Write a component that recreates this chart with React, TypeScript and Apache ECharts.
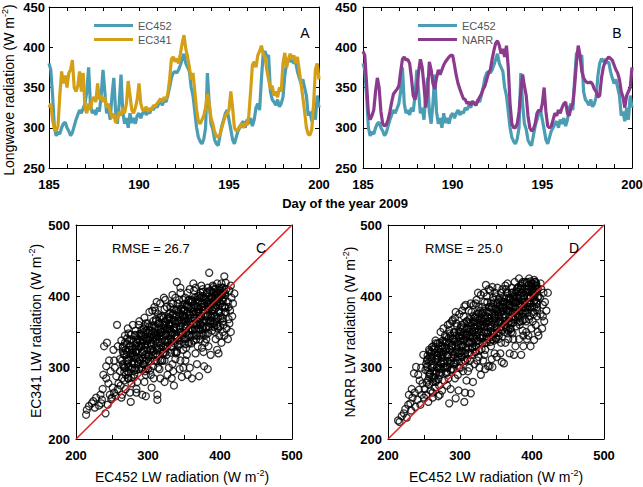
import React, { useEffect, useRef } from "react";
import * as echarts from "echarts";

// Radiation records sampled every 0.1 day, one row per day
const dayStart = 185;
const dayStep = 0.1;

const ec452 = [
  380, 372, 340, 300, 290, 295, 292, 300, 305, 307,
  300, 296, 290, 294, 302, 310, 316, 322, 318, 324,
  330, 345, 375, 330, 318, 322, 316, 325, 320, 340,
  372, 345, 318, 325, 310, 340, 362, 320, 305, 330,
  366, 320, 305, 312, 300, 318, 306, 312, 305, 315,
  318, 312, 318, 322, 316, 320, 318, 325, 322, 328,
  325, 330, 332, 328, 335, 332, 340, 350, 362, 368,
  370, 368, 372, 378, 385, 392, 380, 375, 370, 350,
  340, 320, 300, 288, 283, 280, 286, 300, 368, 330,
  305, 298, 285, 280, 278, 290, 302, 310, 318, 322,
  310, 298, 285, 280, 288, 296, 300, 305, 308, 300,
  310, 305, 312, 302, 310, 325, 330, 322, 360, 392,
  395, 388, 390, 345, 335, 332, 328, 335, 326, 330,
  338, 365, 380, 386, 382, 385, 380, 382, 370, 362,
  355, 360, 350, 340, 315, 320, 308, 325, 310, 340,
  325,
];

const ec341 = [
  325, 330, 310, 298, 296, 302, 340, 370, 355, 365,
  350, 368, 372, 384, 350, 345, 352, 370, 345, 368,
  325, 318, 330, 322, 335, 338, 332, 355, 335, 340,
  332, 338, 325, 330, 320, 312, 318, 306, 312, 320,
  315, 325, 318, 330, 358, 340, 322, 318, 325, 335,
  355, 330, 322, 322, 326, 320, 324, 322, 328, 326,
  330, 333, 336, 332, 338, 335, 342, 360, 385, 388,
  382, 386, 380, 392, 405, 415, 398, 388, 375, 360,
  368, 345, 322, 308, 305, 310, 315, 325, 342, 330,
  312, 305, 295, 290, 288, 292, 300, 308, 315, 318,
  322, 345, 325, 300, 296, 298, 302, 305, 300, 306,
  303, 315, 345, 378, 382, 375, 390, 395, 402, 392,
  388, 372, 360, 348, 352, 340, 345, 338, 350, 345,
  380, 393, 375, 385, 392, 385, 390, 380, 388, 372,
  355, 338, 320, 300, 292, 291, 298, 330, 372, 380,
  360,
];

const narr = [
  395, 390, 355, 318, 310, 315, 322, 345, 362, 350,
  320, 305, 302, 304, 310, 320, 332, 342, 345, 348,
  352, 370, 385, 388, 384, 385, 380, 362, 340, 335,
  345, 370, 385, 375, 352, 325, 345, 382, 372, 355,
  348, 362, 372, 366, 372, 378, 382, 385, 388, 390,
  390, 378, 365, 355, 348, 342, 336, 335, 330, 332,
  328, 333, 330, 328, 333, 338, 342, 348, 352, 360,
  368, 372, 385, 396, 405, 408, 402, 392, 398, 388,
  402, 375, 330, 305, 300, 300, 305, 320, 345, 366,
  352, 340, 315, 300, 296, 298, 305, 318, 322, 320,
  330, 350, 320, 302, 300, 302, 310, 318, 315, 322,
  318, 325, 330, 332, 318, 315, 325, 330, 352, 380,
  402, 390, 370, 362, 358, 356, 356, 357, 354, 348,
  345, 338, 340, 362, 375, 382, 385, 388, 386, 384,
  378, 372, 368, 360, 345, 338, 325, 340, 345, 350,
  375,
];

// EC452 (x) against EC341 (y), W m-2: outer cloud
const ec452VsEc341: [number, number][] = [
  [214, 234], [215, 241], [218, 246],
  [222, 250], [226, 244], [228, 258], [224, 253],
  [232, 247], [234, 262], [236, 255], [238, 290], [239, 330], [235, 250], [237, 270],
  [241, 236], [242, 302], [243, 335], [244, 248], [245, 278], [246, 310], [247, 262], [248, 295], [249, 256], [242, 285],
  [251, 272], [252, 325], [253, 265], [254, 300], [255, 260], [256, 288], [257, 360], [258, 330], [259, 278], [253, 310], [250, 258], [258, 270],
  [261, 295], [262, 275], [263, 338], [264, 262], [265, 305], [266, 320], [267, 282], [268, 345], [269, 290], [261, 312], [263, 258], [265, 330], [267, 300], [269, 270],
  [271, 310], [272, 355], [273, 285], [274, 325], [275, 265], [276, 252], [277, 340], [278, 300], [279, 318], [271, 295], [273, 348], [275, 330], [277, 278], [279, 360], [272, 305], [276, 315],
  [281, 290], [282, 345], [283, 322], [284, 265], [285, 335], [286, 308], [287, 360], [288, 298], [289, 328], [281, 315], [283, 352], [285, 280], [287, 340], [289, 310], [282, 300], [286, 325], [288, 365], [284, 270],
  [291, 330], [292, 262], [293, 345], [294, 305], [295, 370], [296, 318], [297, 290], [298, 352], [299, 325], [291, 300], [293, 338], [295, 280], [297, 362], [299, 312], [292, 322], [294, 355], [296, 295], [298, 340], [290, 348], [297, 260],
  [301, 315], [302, 378], [303, 335], [304, 290], [305, 358], [306, 322], [307, 302], [308, 345], [309, 385], [301, 340], [303, 296], [305, 330], [307, 365], [309, 310], [302, 352], [304, 325], [306, 380], [308, 285], [300, 362], [310, 338], [305, 272],
  [311, 320], [312, 392], [313, 345], [314, 300], [315, 362], [316, 335], [317, 285], [318, 372], [319, 350], [311, 368], [313, 255], [315, 328], [317, 390], [319, 310], [312, 340], [314, 375], [316, 298], [318, 355], [310, 380], [320, 325], [313, 262], [316, 348],
  [321, 345], [322, 398], [323, 310], [324, 365], [325, 330], [326, 385], [327, 290], [328, 355], [329, 375], [321, 320], [323, 382], [325, 348], [327, 335], [329, 300], [322, 360], [324, 395], [326, 318], [328, 340], [320, 372], [330, 352], [323, 280], [327, 368],
  [331, 360], [332, 330], [333, 390], [334, 305], [335, 375], [336, 275], [337, 345], [338, 398], [339, 320], [331, 385], [333, 350], [335, 295], [337, 365], [339, 380], [332, 340], [334, 402], [336, 355], [338, 312], [330, 370], [340, 345], [335, 390], [340, 420], [333, 285],
  [341, 365], [342, 330], [343, 395], [344, 355], [345, 310], [346, 382], [347, 345], [348, 372], [349, 300], [341, 390], [343, 338], [345, 405], [347, 362], [349, 325], [342, 378], [344, 298], [346, 350], [348, 388], [340, 322], [350, 368], [345, 412], [347, 287], [349, 395],
  [351, 340], [352, 398], [353, 365], [354, 318], [355, 385], [356, 352], [357, 375], [358, 300], [359, 392], [351, 372], [353, 328], [355, 405], [357, 345], [359, 362], [352, 310], [354, 388], [356, 335], [358, 410], [350, 380], [360, 355], [355, 290], [357, 395], [353, 355],
  [361, 370], [362, 392], [363, 338], [364, 408], [365, 355], [366, 320], [367, 385], [368, 345], [369, 400], [361, 285], [363, 378], [365, 398], [367, 362], [369, 330], [362, 352], [364, 375], [366, 412], [368, 305], [360, 395], [370, 365], [363, 418], [367, 340], [369, 382],
  [371, 355], [372, 398], [373, 340], [374, 385], [375, 365], [376, 410], [377, 322], [378, 390], [379, 372], [371, 288], [373, 405], [375, 348], [377, 380], [379, 335], [372, 368], [374, 415], [376, 355], [378, 302], [370, 378], [380, 395], [375, 328], [377, 400], [373, 360],
  [381, 372], [382, 405], [383, 348], [384, 390], [385, 433], [386, 365], [387, 318], [388, 398], [389, 380], [381, 340], [383, 412], [385, 358], [387, 385], [389, 352], [382, 392], [384, 330], [386, 408], [388, 370], [380, 355], [390, 415], [383, 298], [387, 362], [389, 400],
  [391, 385], [392, 410], [393, 350], [394, 398], [395, 368], [396, 325], [397, 405], [398, 378], [399, 345], [391, 362], [393, 402], [395, 388], [397, 355], [399, 412], [392, 372], [394, 340], [396, 395], [398, 320], [390, 380], [400, 405], [395, 360],
  [401, 390], [402, 335], [403, 412], [404, 365], [405, 398], [406, 345], [407, 405], [408, 378], [409, 355], [401, 372], [403, 395], [405, 360], [407, 385], [409, 410], [402, 402], [406, 428], [404, 350],
  [411, 392], [412, 368], [413, 408], [414, 380], [415, 350], [416, 398], [417, 372], [418, 390], [420, 404], [412, 385], [415, 415], [413, 362], [411, 340],
];

// EC452 (x) against EC341 (y): dense core
const ec452VsEc341Core: [number, number][] = [
  [264, 310], [267, 294], [265, 323], [268, 335], [266, 302], [264, 285], [267, 318], [268, 300], [265, 328],
  [272, 310], [269, 325], [273, 293], [271, 341], [270, 318], [273, 301], [270, 333], [272, 285], [271, 322],
  [276, 320], [278, 307], [274, 338], [277, 298], [275, 331], [277, 286], [276, 346], [274, 312], [278, 326],
  [283, 313], [280, 336], [281, 305], [279, 325], [282, 346], [281, 297], [283, 330], [280, 286], [279, 321],
  [284, 322], [287, 306], [285, 335], [288, 347], [286, 314], [284, 297], [287, 330], [288, 312], [285, 340],
  [292, 322], [289, 337], [293, 305], [291, 353], [290, 330], [293, 313], [290, 345], [292, 297], [291, 334],
  [296, 332], [298, 319], [294, 350], [297, 310], [295, 343], [297, 298], [296, 358], [294, 324], [298, 338],
  [303, 325], [300, 348], [301, 317], [299, 337], [302, 358], [301, 309], [303, 342], [300, 298], [299, 333],
  [304, 334], [307, 318], [305, 347], [308, 359], [306, 326], [304, 309], [307, 342], [308, 324], [305, 352],
  [312, 334], [309, 349], [313, 317], [311, 365], [310, 342], [313, 325], [310, 357], [312, 309], [311, 346],
  [316, 344], [318, 331], [314, 362], [317, 322], [315, 355], [317, 310], [316, 370], [314, 336], [318, 350],
  [323, 337], [320, 360], [321, 329], [319, 349], [322, 370], [321, 321], [323, 354], [320, 310], [319, 345],
  [324, 346], [327, 330], [325, 359], [328, 371], [326, 338], [324, 321], [327, 354], [328, 336], [325, 364],
  [332, 346], [329, 361], [333, 329], [331, 377], [330, 354], [333, 337], [330, 369], [332, 321], [331, 358],
  [336, 356], [338, 343], [334, 374], [337, 334], [335, 367], [337, 322], [336, 382], [334, 348], [338, 362],
  [343, 349], [340, 372], [341, 341], [339, 361], [342, 382], [341, 333], [343, 366], [340, 322], [339, 357],
  [344, 358], [347, 342], [345, 371], [348, 383], [346, 350], [344, 333], [347, 366], [348, 348], [345, 376],
  [352, 358], [349, 373], [353, 341], [351, 389], [350, 366], [353, 349], [350, 381], [352, 333], [351, 370],
  [356, 368], [358, 355], [354, 386], [357, 346], [355, 379], [357, 334], [356, 394], [354, 360], [358, 374],
  [363, 361], [360, 384], [361, 353], [359, 373], [362, 394], [361, 345], [363, 378], [360, 334], [359, 369],
  [364, 370], [367, 354], [365, 383], [368, 395], [366, 362], [364, 345], [367, 378], [368, 360], [365, 388],
  [372, 370], [369, 385], [373, 353], [371, 401], [370, 378], [373, 361], [370, 393], [372, 345], [371, 382],
  [376, 380], [378, 367], [374, 398], [377, 358], [375, 391], [377, 346], [376, 406], [374, 372], [378, 386],
  [383, 373], [380, 396], [381, 365], [379, 385], [382, 406], [381, 357], [383, 390], [380, 346], [379, 381],
  [384, 382], [387, 366], [385, 395], [388, 407], [386, 374], [384, 357], [387, 390], [388, 372], [385, 400],
  [392, 382], [389, 397], [393, 365], [391, 413], [390, 390], [393, 373], [390, 405], [392, 357], [391, 394],
  [396, 392], [398, 379], [394, 410], [397, 370], [395, 403], [397, 358], [396, 418], [394, 384], [398, 398],
  [403, 385], [400, 408], [401, 377], [399, 397], [402, 418], [401, 369], [403, 402], [400, 358], [399, 393],
  [404, 394], [407, 378], [405, 407], [408, 419], [406, 386], [404, 369], [407, 402], [408, 384], [405, 412],
];

// EC452 (x) against NARR (y), W m-2: outer cloud
const ec452VsNarr: [number, number][] = [
  [214, 226], [216, 224], [219, 232],
  [222, 236], [224, 242], [226, 230], [228, 248], [229, 262],
  [231, 250], [232, 240], [234, 258], [236, 292], [237, 265], [239, 301], [238, 245], [233, 270],
  [241, 255], [243, 269], [244, 282], [245, 248], [246, 300], [248, 278], [249, 318], [247, 262], [242, 290], [250, 258],
  [251, 270], [252, 297], [253, 262], [254, 310], [255, 282], [256, 252], [257, 325], [258, 290], [259, 268], [260, 320], [253, 305], [257, 276],
  [261, 300], [262, 258], [263, 330], [264, 285], [265, 272], [266, 338], [267, 295], [268, 312], [269, 334], [262, 265], [264, 325], [266, 280], [268, 300], [270, 260],
  [271, 320], [272, 290], [273, 350], [274, 305], [275, 268], [276, 338], [277, 310], [278, 282], [279, 345], [271, 275], [273, 298], [275, 330], [277, 355], [279, 300], [272, 262], [276, 318],
  [281, 335], [282, 300], [283, 360], [284, 285], [285, 250], [286, 325], [287, 345], [288, 310], [289, 365], [281, 292], [283, 318], [285, 352], [287, 270], [289, 330], [282, 275], [286, 362], [288, 298],
  [291, 340], [292, 305], [293, 370], [294, 257], [295, 325], [296, 358], [297, 290], [298, 345], [299, 375], [291, 318], [293, 285], [295, 362], [297, 332], [299, 300], [292, 350], [294, 378], [296, 310], [298, 268], [290, 367],
  [301, 350], [302, 315], [303, 380], [304, 295], [305, 338], [306, 386], [307, 265], [308, 325], [309, 365], [301, 300], [303, 345], [305, 372], [307, 310], [309, 282], [302, 360], [304, 330], [306, 252], [308, 388], [300, 320], [310, 348],
  [311, 335], [312, 380], [313, 300], [314, 362], [315, 390], [316, 318], [317, 350], [318, 280], [319, 372], [311, 295], [313, 368], [315, 264], [317, 328], [319, 388], [312, 355], [314, 310], [316, 378], [318, 342], [310, 365], [320, 305], [315, 345],
  [321, 370], [322, 330], [323, 395], [324, 310], [325, 358], [326, 385], [327, 300], [328, 345], [329, 402], [321, 322], [323, 375], [325, 338], [327, 362], [329, 290], [322, 390], [324, 350], [326, 315], [328, 380], [320, 340], [330, 365], [325, 405],
  [331, 385], [332, 345], [333, 405], [334, 318], [335, 370], [336, 416], [337, 335], [338, 392], [339, 302], [331, 360], [333, 380], [335, 325], [337, 400], [339, 350], [332, 310], [334, 392], [336, 362], [338, 340], [330, 375], [340, 410], [335, 298],
  [341, 365], [342, 408], [343, 330], [344, 385], [345, 413], [346, 350], [347, 395], [348, 320], [349, 375], [341, 302], [343, 390], [345, 340], [347, 370], [349, 405], [342, 355], [344, 312], [346, 398], [348, 362], [340, 385], [350, 342], [345, 301],
  [351, 380], [352, 412], [353, 340], [354, 395], [355, 365], [356, 320], [357, 405], [358, 352], [359, 388], [351, 315], [353, 375], [355, 398], [357, 335], [359, 410], [352, 360], [354, 345], [356, 385], [358, 308], [350, 400], [360, 370],
  [361, 306], [362, 392], [363, 415], [364, 355], [365, 380], [366, 418], [367, 340], [368, 398], [369, 365], [361, 375], [363, 335], [365, 405], [367, 388], [369, 320], [362, 360], [364, 410], [366, 348], [368, 380], [360, 392], [370, 355],
  [371, 385], [372, 412], [373, 348], [374, 398], [375, 368], [376, 420], [377, 330], [378, 392], [379, 375], [371, 350], [373, 405], [375, 318], [377, 382], [379, 410], [372, 362], [374, 340], [376, 400], [378, 358], [370, 395], [380, 372],
  [381, 398], [382, 425], [383, 360], [384, 410], [385, 318], [386, 385], [387, 420], [388, 345], [389, 400], [381, 372], [383, 390], [385, 415], [387, 352], [389, 380], [382, 340], [384, 365], [386, 405], [388, 330], [380, 412], [390, 392],
  [391, 405], [392, 365], [393, 420], [394, 385], [395, 345], [396, 425], [397, 372], [398, 398], [399, 355], [391, 380], [393, 340], [395, 410], [397, 390], [399, 418], [392, 350], [394, 400], [396, 368], [398, 330], [390, 420], [400, 385],
  [401, 410], [402, 375], [403, 423], [403, 339], [404, 395], [405, 360], [406, 415], [407, 385], [408, 350], [409, 400], [401, 365], [405, 420], [407, 372], [409, 345], [402, 405], [406, 392],
  [411, 398], [412, 375], [413, 410], [414, 355], [415, 388], [416, 405], [417, 365], [418, 392], [420, 380], [422, 405], [412, 418], [415, 372],
];

// EC452 (x) against NARR (y): dense core
const ec452VsNarrCore: [number, number][] = [
  [254, 301], [257, 287], [255, 312], [258, 323], [256, 294], [254, 279], [257, 308], [258, 292], [255, 317],
  [262, 302], [259, 315], [263, 287], [261, 329], [260, 309], [263, 295], [260, 322], [262, 280], [261, 313],
  [266, 311], [268, 300], [264, 327], [267, 292], [265, 321], [267, 282], [266, 334], [264, 304], [268, 317],
  [273, 307], [270, 327], [271, 300], [269, 317], [272, 335], [271, 293], [273, 322], [270, 284], [269, 314],
  [274, 315], [277, 301], [275, 326], [278, 337], [276, 308], [274, 293], [277, 322], [278, 306], [275, 331],
  [282, 316], [279, 329], [283, 301], [281, 343], [280, 323], [283, 309], [280, 336], [282, 294], [281, 327],
  [286, 325], [288, 314], [284, 341], [287, 306], [285, 335], [287, 296], [286, 348], [284, 318], [288, 331],
  [293, 321], [290, 341], [291, 314], [289, 331], [292, 349], [291, 307], [293, 336], [290, 298], [289, 328],
  [294, 329], [297, 315], [295, 340], [298, 351], [296, 322], [294, 307], [297, 336], [298, 320], [295, 345],
  [302, 330], [299, 343], [303, 315], [301, 357], [300, 337], [303, 323], [300, 350], [302, 308], [301, 341],
  [306, 339], [308, 328], [304, 355], [307, 320], [305, 349], [307, 310], [306, 362], [304, 332], [308, 345],
  [313, 335], [310, 355], [311, 328], [309, 345], [312, 363], [311, 321], [313, 350], [310, 312], [309, 342],
  [314, 343], [317, 329], [315, 354], [318, 365], [316, 336], [314, 321], [317, 350], [318, 334], [315, 359],
  [322, 344], [319, 357], [323, 329], [321, 371], [320, 351], [323, 337], [320, 364], [322, 322], [321, 355],
  [326, 353], [328, 342], [324, 369], [327, 334], [325, 363], [327, 324], [326, 376], [324, 346], [328, 359],
  [333, 349], [330, 369], [331, 342], [329, 359], [332, 377], [331, 335], [333, 364], [330, 326], [329, 356],
  [334, 357], [337, 343], [335, 368], [338, 379], [336, 350], [334, 335], [337, 364], [338, 348], [335, 373],
  [342, 358], [339, 371], [343, 343], [341, 385], [340, 365], [343, 351], [340, 378], [342, 336], [341, 369],
  [346, 367], [348, 356], [344, 383], [347, 348], [345, 377], [347, 338], [346, 390], [344, 360], [348, 373],
  [353, 363], [350, 383], [351, 356], [349, 373], [352, 391], [351, 349], [353, 378], [350, 340], [349, 370],
  [354, 371], [357, 357], [355, 382], [358, 393], [356, 364], [354, 349], [357, 378], [358, 362], [355, 387],
  [362, 372], [359, 385], [363, 357], [361, 399], [360, 379], [363, 365], [360, 392], [362, 350], [361, 383],
  [366, 381], [368, 370], [364, 397], [367, 362], [365, 391], [367, 352], [366, 404], [364, 374], [368, 387],
  [373, 377], [370, 397], [371, 370], [369, 387], [372, 405], [371, 363], [373, 392], [370, 354], [369, 384],
  [374, 385], [377, 371], [375, 396], [378, 407], [376, 378], [374, 363], [377, 392], [378, 376], [375, 401],
  [382, 386], [379, 399], [383, 371], [381, 413], [380, 393], [383, 379], [380, 406], [382, 364], [381, 397],
  [386, 395], [388, 384], [384, 411], [387, 376], [385, 405], [387, 366], [386, 418], [384, 388], [388, 401],
  [393, 391], [390, 411], [391, 384], [389, 401], [392, 419], [391, 377], [393, 406], [390, 368], [389, 398],
  [394, 399], [397, 385], [395, 410], [398, 421], [396, 392], [394, 377], [397, 406], [398, 390], [395, 415],
  [402, 400], [399, 413], [403, 385], [401, 418], [400, 407], [403, 393], [400, 414], [402, 378], [401, 411],
  [406, 409], [408, 398], [404, 420], [407, 390], [405, 415], [407, 380], [406, 418], [404, 402], [408, 411],
];

const rmseEc341 = "26.7";
const rmseNarr = "25.0";
const identityLine = [200, 500];

const TEAL = "#4a9db3";
const GOLD = "#d39f17";
const PURPLE = "#8b3b8e";
const RED = "#e41f1f";
const FONT = "'Liberation Sans', Arial, Helvetica, sans-serif";

const toDaySeries = (vals: number[]) =>
  vals.map((v, i) => [Math.round((dayStart + i * dayStep) * 10) / 10, v]);

type AxisSpec = {
  grid: number;
  min: number;
  max: number;
  interval: number;
  labelEvery: number;
  margin: number;
};

function axisPair(spec: AxisSpec, main: string, mirror: string) {
  const common = {
    type: "value" as const,
    gridIndex: spec.grid,
    min: spec.min,
    max: spec.max,
    interval: spec.interval,
    splitLine: { show: false },
    axisLine: { show: true, onZero: false, lineStyle: { color: "#000", width: 1 } },
    axisTick: { show: true, inside: true, length: 4, lineStyle: { color: "#000", width: 1 } },
  };
  return [
    {
      ...common,
      position: main,
      axisLabel: {
        show: true,
        margin: spec.margin,
        color: "#000",
        fontFamily: FONT,
        fontWeight: "bold",
        fontSize: 13,
        formatter: (v: number) => {
          const r = Math.round(v);
          return r % spec.labelEvery === 0 ? String(r) : "";
        },
      },
    },
    { ...common, position: mirror, axisLabel: { show: false } },
  ];
}

const supRich = {
  a: { fontSize: 14, fontFamily: FONT, fill: "#000", color: "#000" },
  s: { fontSize: 9, fontFamily: FONT, fill: "#000", color: "#000", padding: [0, 0, 9, 0] },
};
const unitsText = (label: string) => `{a|${label} (W m}{s|-2}{a|)}`;

function textEl(x: number, y: number, text: string, opts: any = {}) {
  return {
    type: "text",
    x,
    y,
    rotation: opts.rotation || 0,
    z: 100,
    style: {
      text,
      rich: opts.rich,
      fill: "#000",
      fontFamily: FONT,
      fontSize: opts.fontSize || 14,
      fontWeight: opts.fontWeight || "normal",
      align: opts.align || "center",
      verticalAlign: "middle",
    },
  };
}

export default function App() {
  const ref = useRef<HTMLDivElement>(null);

  useEffect(() => {
    if (!ref.current) return;
    const chart = echarts.init(ref.current, undefined, { renderer: "svg" });

    const grids = [
      { left: 49, top: 7, width: 270, height: 161 },
      { left: 363, top: 7, width: 269, height: 161 },
      { left: 76, top: 225, width: 216, height: 214 },
      { left: 388, top: 225, width: 216, height: 214 },
    ].map((g) => ({ ...g, outerBoundsMode: "none", containLabel: false }));

    const xAxes = [
      ...axisPair({ grid: 0, min: 185, max: 200, interval: 1, labelEvery: 5, margin: 10 }, "bottom", "top"),
      ...axisPair({ grid: 1, min: 185, max: 200, interval: 1, labelEvery: 5, margin: 10 }, "bottom", "top"),
      ...axisPair({ grid: 2, min: 200, max: 500, interval: 50, labelEvery: 100, margin: 10 }, "bottom", "top"),
      ...axisPair({ grid: 3, min: 200, max: 500, interval: 50, labelEvery: 100, margin: 10 }, "bottom", "top"),
    ];
    const yAxes = [
      ...axisPair({ grid: 0, min: 250, max: 450, interval: 50, labelEvery: 50, margin: 4 }, "left", "right"),
      ...axisPair({ grid: 1, min: 250, max: 450, interval: 50, labelEvery: 50, margin: 6 }, "left", "right"),
      ...axisPair({ grid: 2, min: 200, max: 500, interval: 50, labelEvery: 100, margin: 6 }, "left", "right"),
      ...axisPair({ grid: 3, min: 200, max: 500, interval: 50, labelEvery: 100, margin: 6 }, "left", "right"),
    ];

    const lineSeries = (name: string, vals: number[], color: string, axis: number) => ({
      name,
      type: "line",
      xAxisIndex: axis,
      yAxisIndex: axis,
      data: toDaySeries(vals),
      showSymbol: false,
      symbol: "none",
      color,
      lineStyle: { color, width: 3.2 },
      emphasis: { disabled: true },
    });

    const scatterSeries = (data: [number, number][], axis: number) => ({
      type: "scatter",
      xAxisIndex: axis,
      yAxisIndex: axis,
      data,
      symbol: "circle",
      symbolSize: 7,
      itemStyle: { color: "rgba(0,0,0,0)", borderColor: "#000", borderWidth: 1.3 },
      emphasis: { disabled: true },
    });

    const identitySeries = (axis: number) => ({
      type: "line",
      xAxisIndex: axis,
      yAxisIndex: axis,
      data: identityLine.map((v) => [v, v]),
      showSymbol: false,
      symbol: "none",
      z: 5,
      lineStyle: { color: RED, width: 1.5 },
      emphasis: { disabled: true },
    });

    const legendBase = {
      orient: "vertical",
      icon: "rect",
      itemWidth: 39,
      itemHeight: 3,
      itemGap: 3,
      z: 20,
      selectedMode: false,
      textStyle: { color: "#555", fontFamily: FONT, fontSize: 11, lineHeight: 11 },
    };

    chart.setOption({
      animation: false,
      backgroundColor: "#fff",
      grid: grids,
      xAxis: xAxes,
      yAxis: yAxes,
      legend: [
        { ...legendBase, left: 89, top: 15, data: ["EC452", "EC341"] },
        { ...legendBase, left: 413, top: 15, data: ["EC452", "NARR"] },
      ],
      series: [
        lineSeries("EC452", ec452, TEAL, 0),
        lineSeries("EC341", ec341, GOLD, 0),
        lineSeries("EC452", ec452, TEAL, 2),
        lineSeries("NARR", narr, PURPLE, 2),
        scatterSeries([...ec452VsEc341, ...ec452VsEc341Core], 4),
        identitySeries(4),
        scatterSeries([...ec452VsNarr, ...ec452VsNarrCore], 6),
        identitySeries(6),
      ],
      graphic: [
        textEl(305, 33, "A"),
        textEl(617, 33, "B"),
        textEl(261, 248, "C"),
        textEl(574, 248, "D"),
        textEl(112, 248, `RMSE = ${rmseEc341}`, { fontSize: 13, align: "left" }),
        textEl(425, 248, `RMSE = ${rmseNarr}`, { fontSize: 13, align: "left" }),
        textEl(345, 203, "Day of the year 2009", { fontSize: 13, fontWeight: "bold" }),
        textEl(9, 90, unitsText("Longwave radiation"), { rotation: Math.PI / 2, rich: supRich }),
        textEl(36, 331, unitsText("EC341 LW radiation"), { rotation: Math.PI / 2, rich: supRich }),
        textEl(350, 332, unitsText("NARR LW radiation"), { rotation: Math.PI / 2, rich: supRich }),
        textEl(182, 477, unitsText("EC452 LW radiation"), { rich: supRich }),
        textEl(496, 477, unitsText("EC452 LW radiation"), { rich: supRich }),
      ],
    });

    return () => chart.dispose();
  }, []);

  return (
    <div
      ref={ref}
      style={{ position: "absolute", left: 0, top: 0, width: 643, height: 487 }}
    />
  );
}
